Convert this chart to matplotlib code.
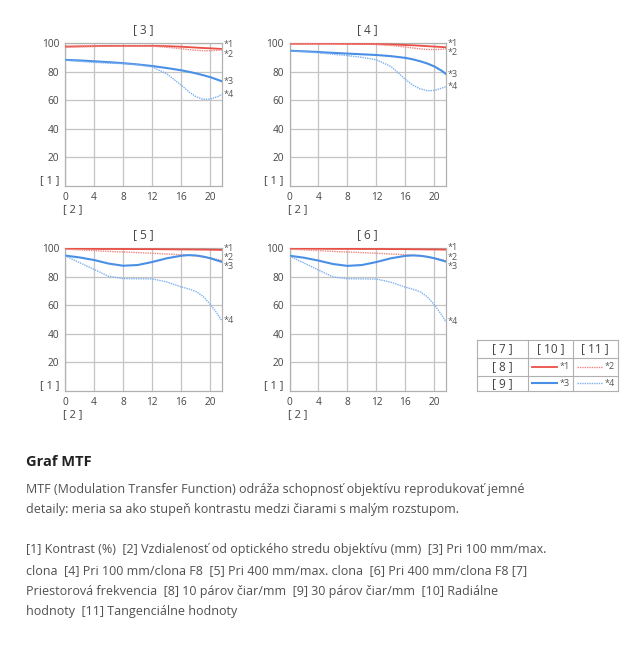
import numpy as np
import matplotlib.pyplot as plt
from matplotlib.lines import Line2D

plt.rcParams['font.family'] = ['Open Sans', 'DejaVu Sans']

# distance from optical centre (mm), shared sampling for all curves
dist = [0, 2, 4, 6, 8, 10, 12, 14, 16, 17, 18, 19, 20, 21, 21.6]

panel_titles = ['[ 3 ]', '[ 4 ]', '[ 5 ]', '[ 6 ]']
curve_names = ['*1', '*2', '*3', '*4']

# [3] 100 mm / max aperture
p3_s1 = [97.5, 97.7, 97.8, 98.0, 98.0, 98.0, 98.0, 97.8, 97.4, 97.1, 96.8, 96.5, 96.3, 96.0, 95.8]
p3_s2 = [97.0, 97.3, 97.6, 97.8, 98.0, 98.0, 97.8, 97.0, 96.0, 95.4, 94.9, 94.6, 94.6, 94.9, 95.2]
p3_s3 = [88.2, 87.8, 87.2, 86.6, 85.9, 85.0, 83.9, 82.5, 80.9, 79.9, 78.8, 77.5, 76.1, 74.3, 73.2]
p3_s4 = [88.0, 87.2, 86.4, 85.9, 85.6, 84.8, 83.2, 78.5, 70.5, 66.0, 62.5, 60.6, 60.8, 62.5, 64.0]

# [4] 100 mm / F8
p4_s1 = [99.5, 99.5, 99.5, 99.5, 99.4, 99.3, 99.2, 99.0, 98.6, 98.4, 98.1, 97.8, 97.5, 97.2, 97.0]
p4_s2 = [99.5, 99.5, 99.4, 99.4, 99.3, 99.2, 99.0, 98.3, 97.2, 96.5, 95.9, 95.5, 95.4, 95.6, 96.0]
p4_s3 = [94.6, 94.2, 93.7, 93.1, 92.6, 92.1, 91.6, 90.8, 89.6, 88.6, 87.3, 85.7, 83.6, 80.6, 78.3]
p4_s4 = [94.5, 93.9, 93.1, 92.1, 91.2, 90.0, 88.2, 83.6, 74.5, 70.6, 68.0, 66.6, 66.8, 68.4, 69.5]

# [5] 400 mm / max aperture
p5_s1 = [99.6, 99.5, 99.4, 99.3, 99.3, 99.2, 99.2, 99.1, 99.0, 99.0, 98.9, 98.9, 98.8, 98.7, 98.6]
p5_s2 = [99.2, 98.7, 98.2, 97.6, 97.2, 96.8, 96.3, 95.8, 95.3, 95.0, 94.5, 93.8, 93.0, 91.9, 91.2]
p5_s3 = [94.7, 93.4, 91.6, 89.1, 87.6, 88.1, 90.2, 92.8, 94.6, 95.0, 94.8, 94.0, 92.8, 91.2, 90.3]
p5_s4 = [94.5, 89.8, 85.0, 80.2, 78.6, 78.5, 78.4, 76.3, 72.8, 71.4, 69.6, 66.2, 60.5, 53.8, 49.0]

# [6] 400 mm / F8
p6_s1 = [99.6, 99.5, 99.5, 99.4, 99.4, 99.3, 99.3, 99.2, 99.2, 99.1, 99.1, 99.0, 99.0, 98.9, 98.9]
p6_s2 = [99.2, 98.7, 98.2, 97.6, 97.2, 96.8, 96.3, 95.8, 95.3, 95.0, 94.5, 93.8, 93.0, 91.8, 91.0]
p6_s3 = [94.6, 93.2, 91.2, 88.8, 87.5, 88.1, 90.2, 92.8, 94.5, 94.8, 94.6, 93.9, 92.8, 91.4, 90.5]
p6_s4 = [94.3, 89.5, 84.6, 79.8, 78.5, 78.4, 78.3, 76.1, 72.6, 71.2, 69.5, 66.0, 60.2, 53.2, 48.3]

panels = [
    [p3_s1, p3_s2, p3_s3, p3_s4],
    [p4_s1, p4_s2, p4_s3, p4_s4],
    [p5_s1, p5_s2, p5_s3, p5_s4],
    [p6_s1, p6_s2, p6_s3, p6_s4],
]

legend_rows = ['[ 8 ]', '[ 9 ]']
legend_cols = ['[ 7 ]', '[ 10 ]', '[ 11 ]']

heading = 'Graf MTF'
body_lines = [
    'MTF (Modulation Transfer Function) odráža schopnosť objektívu reprodukovať jemné',
    'detaily: meria sa ako stupeň kontrastu medzi čiarami s malým rozstupom.',
    '',
    '[1] Kontrast (%)  [2] Vzdialenosť od optického stredu objektívu (mm)  [3] Pri 100 mm/max.',
    'clona  [4] Pri 100 mm/clona F8  [5] Pri 400 mm/max. clona  [6] Pri 400 mm/clona F8 [7]',
    'Priestorová frekvencia  [8] 10 párov čiar/mm  [9] 30 párov čiar/mm  [10] Radiálne',
    'hodnoty  [11] Tangenciálne hodnoty',
]

RED = '#ea4f46'
RED_LIGHT = '#ef8680'
BLUE = '#4a8fe6'
BLUE_LIGHT = '#7cb0f0'
styles = [
    dict(color=RED, lw=1.3, ls='-'),
    dict(color=RED_LIGHT, lw=1.0, ls=(0, (1, 0.7))),
    dict(color=BLUE, lw=1.5, ls='-'),
    dict(color=BLUE_LIGHT, lw=1.0, ls=(0, (1, 0.7))),
]
TXT = '#444444'

W, H = 635, 645
fig = plt.figure(figsize=(W / 100, H / 100), dpi=100)


def px_axes(left, top, right, bottom):
    return fig.add_axes([left / W, 1 - bottom / H, (right - left) / W, (bottom - top) / H])


def spread(vals, gap=6.6):
    # push end labels apart so they don't overlap
    order = np.argsort(vals)[::-1]
    p = np.array(vals, dtype=float)[order]
    for _ in range(60):
        for i in range(len(p) - 1):
            if p[i] - p[i + 1] < gap:
                mid = (p[i] + p[i + 1]) / 2
                p[i], p[i + 1] = mid + gap / 2, mid - gap / 2
    out = np.empty_like(p)
    out[order] = p
    return out


boxes = [(65, 43, 222, 186), (289.5, 43, 446, 186),
         (65, 248, 222, 391), (289.5, 248, 446, 391)]

for (l, t, r, b), title, series in zip(boxes, panel_titles, panels):
    ax = px_axes(l, t, r, b)
    for vals, st in zip(series, styles):
        ax.plot(dist, vals, **st, zorder=3)
    ax.set_xlim(0, 21.6)
    ax.set_ylim(0, 100)
    ax.set_xticks([0, 4, 8, 12, 16, 20])
    ax.set_yticks([20, 40, 60, 80, 100])
    ax.grid(True, color='#c4c4c4', lw=0.9)
    for sp in ax.spines.values():
        sp.set_color('#b0b0b0')
        sp.set_linewidth(0.9)
    ax.tick_params(length=0, labelsize=7.3, labelcolor=TXT, pad=4)
    ax.set_title(title, fontsize=8.5, color=TXT, pad=7)
    ax.text(-0.1, 0.037, '[ 1 ]', transform=ax.transAxes, ha='center', va='center',
            fontsize=8, color=TXT)
    ax.text(0.05, -0.165, '[ 2 ]', transform=ax.transAxes, ha='center', va='center',
            fontsize=8, color=TXT)
    ends = [v[-1] for v in series]
    for name, y in zip(curve_names, spread(ends)):
        ax.text(21.6 + 0.25, y, name, fontsize=6.5, color='#555555', va='center', ha='left',
                clip_on=False)

# legend table
lax = px_axes(476.7, 340, 617.7, 391)
lax.set_xlim(0, 1)
lax.set_ylim(0, 1)
lax.axis('off')
col_x = [0, 51.3 / 141, 96 / 141, 1]
row_y = [1, 1 - 17.7 / 51, 1 - 35.7 / 51, 0]
for x in col_x:
    lax.plot([x, x], [0, 1], color='#b0b0b0', lw=0.8, clip_on=False)
for y in row_y:
    lax.plot([0, 1], [y, y], color='#b0b0b0', lw=0.8, clip_on=False)
for j, txt in enumerate(legend_cols):
    lax.text((col_x[j] + col_x[j + 1]) / 2, (row_y[0] + row_y[1]) / 2, txt,
             ha='center', va='center', fontsize=8.5, color=TXT)
for i, txt in enumerate(legend_rows):
    yc = (row_y[i + 1] + row_y[i + 2]) / 2
    lax.text((col_x[0] + col_x[1]) / 2, yc, txt, ha='center', va='center',
             fontsize=8.5, color=TXT)
    for j in range(2):
        k = i * 2 + j
        x0 = col_x[j + 1] + 0.03
        lax.add_line(Line2D([x0, x0 + 0.175], [yc, yc], **styles[k]))
        lax.text(x0 + 0.195, yc, curve_names[k], fontsize=6.5, color='#555555', va='center')

# description text
fig.text(26 / W, 1 - 462 / H, heading, fontsize=10.5, fontweight='bold', color='#222222',
         va='center')
line_y = [490, 510, 530, 550, 571, 592, 612]
for y, line in zip(line_y, body_lines):
    fig.text(26 / W, 1 - y / H, line, fontsize=9.0, color='#505050', va='center')

fig.savefig('out.png', dpi=100, facecolor='white')
